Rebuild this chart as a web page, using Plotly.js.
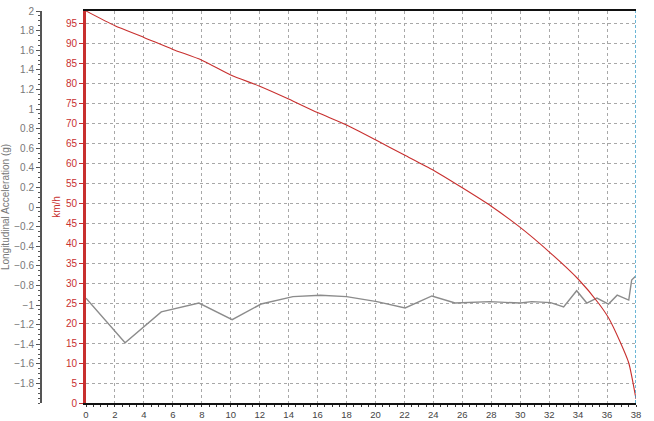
<!DOCTYPE html>
<html>
<head>
<meta charset="utf-8">
<script src="https://cdn.plot.ly/plotly-3.0.1.min.js"></script>
<style>html,body{margin:0;padding:0;background:#fff;}#chart{width:654px;height:421px;}</style>
</head>
<body>
<div id="chart"></div>
<script>
// Speed (km/h) vs time
const speedTime = [0,2,4,6,8,10,12,14,16,18,20,22,24,26,28,30,32,34,35.4,36.1,36.9,37.5,38];
const speedKmh  = [98,94.3,91.4,88.4,85.7,82,79.2,76,72.6,69.5,65.8,62,58.2,53.8,49.2,43.9,37.8,31,25,21.3,15.3,10,1];
// Longitudinal acceleration (g) vs time
const accTime = [0,2.7,5.2,7.8,10.1,12.1,14.3,16.2,18,20.1,22.05,23.9,25.5,27.9,30,30.8,32.1,33,33.9,34.6,35.3,36.1,36.7,37.5,37.7,37.95];
const accG    = [-0.93,-1.385,-1.07,-0.98,-1.15,-0.99,-0.915,-0.9,-0.915,-0.966,-1.03,-0.908,-0.98,-0.966,-0.98,-0.966,-0.976,-1.02,-0.854,-0.98,-0.93,-0.99,-0.9,-0.95,-0.745,-0.71];

const xTicks = [0,2,4,6,8,10,12,14,16,18,20,22,24,26,28,30,32,34,36,38];
const accTicks = [2,1.8,1.6,1.4,1.2,1,0.8,0.6,0.4,0.2,0,-0.2,-0.4,-0.6,-0.8,-1,-1.2,-1.4,-1.6,-1.8];
const speedTicks = [0,5,10,15,20,25,30,35,40,45,50,55,60,65,70,75,80,85,90,95];

const RED = '#c8302f';
const FAM = 'Liberation Sans, Arial, sans-serif';

const traces = [
  {x: accTime, y: accG, type: 'scatter', mode: 'lines', yaxis: 'y',
   line: {color: '#8c8c8c', width: 1.4}, hoverinfo: 'skip'},
  {x: speedTime, y: speedKmh, type: 'scatter', mode: 'lines', yaxis: 'y2',
   line: {color: RED, width: 1.1, shape: 'spline', smoothing: 0.6}, hoverinfo: 'skip'}
];

const layout = {
  width: 654, height: 421,
  margin: {l: 41, r: 18, t: 11, b: 18},
  paper_bgcolor: '#fff', plot_bgcolor: '#fff',
  showlegend: false,
  font: {family: FAM, size: 10},
  xaxis: {
    domain: [45/595, 1], range: [0, 38], tickvals: xTicks,
    showline: true, linecolor: '#111', linewidth: 2, mirror: true,
    ticks: 'outside', ticklen: 2, tickcolor: '#333',
    minor: {dtick: 0.5, ticks: 'outside', ticklen: 2, tickcolor: '#333', showgrid: false},
    showgrid: true, gridcolor: '#a8a8a8', griddash: '3px,3px', gridwidth: 1,
    zeroline: false, tickfont: {color: '#444', size: 9.5, family: FAM}
  },
  yaxis: {
    range: [-2, 2], tickvals: accTicks, anchor: 'free', position: 0, side: 'left',
    showline: true, linecolor: '#555', linewidth: 2,
    ticks: 'outside', ticklen: 4, tickcolor: '#555',
    minor: {dtick: 0.05, ticks: 'outside', ticklen: 2, tickcolor: '#555', showgrid: false},
    showgrid: false, zeroline: false,
    tickfont: {color: '#777', size: 10, family: FAM},
    title: {text: 'Longitudinal Acceleration (g)', font: {color: '#777', size: 10, family: FAM}, standoff: 10}
  },
  yaxis2: {
    range: [0, 98], tickvals: speedTicks, overlaying: 'y', anchor: 'x', side: 'left',
    showline: true, linecolor: RED, linewidth: 3,
    ticks: 'outside', ticklen: 4, tickcolor: RED,
    showgrid: true, gridcolor: '#a8a8a8', griddash: '3px,3px', gridwidth: 1,
    zeroline: false,
    tickfont: {color: RED, size: 10, family: FAM},
    title: {text: 'km/h', font: {color: RED, size: 10, family: FAM}, standoff: 4}
  },
  shapes: [
    {type: 'line', xref: 'x', yref: 'paper', x0: 38, x1: 38, y0: 0, y1: 1,
     line: {color: '#3a9ec8', width: 1.5, dash: '3px,2px'}}
  ]
};

Plotly.newPlot('chart', traces, layout, {displayModeBar: false, staticPlot: true});
</script>
</body>
</html>
